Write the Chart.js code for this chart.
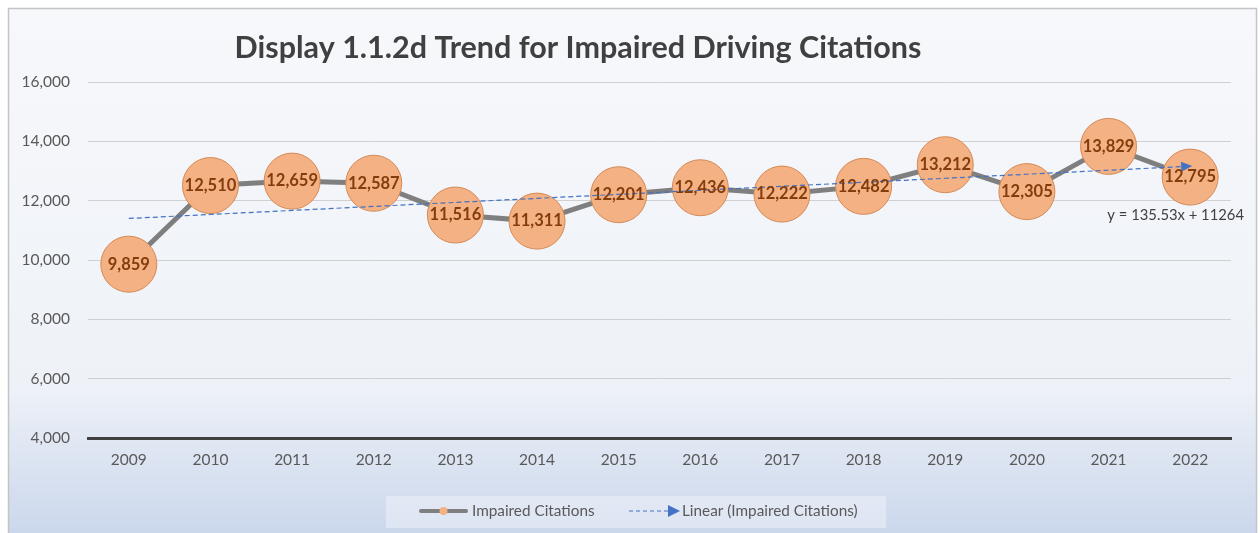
<!DOCTYPE html>
<html>
<head>
<meta charset="utf-8">
<script src="https://cdn.jsdelivr.net/npm/chart.js@4.4.1/dist/chart.umd.min.js"></script>
<style>
  html, body { margin: 0; padding: 0; background: #fff; }
  #wrap { width: 1260px; height: 533px; position: relative; }
</style>
</head>
<body>
<div id="wrap"><canvas id="chart" width="1260" height="533"></canvas></div>
<script>
const years = ['2009', '2010', '2011', '2012', '2013', '2014', '2015', '2016', '2017', '2018', '2019', '2020', '2021', '2022'];
const citations = [9859, 12510, 12659, 12587, 11516, 11311, 12201, 12436, 12222, 12482, 13212, 12305, 13829, 12795];
const trend = [11400, 11535, 11671, 11806, 11942, 12078, 12213, 12349, 12484, 12620, 12755, 12891, 13026, 13162];
const yTicks = [4000, 6000, 8000, 10000, 12000, 14000, 16000];
const titleText = 'Display 1.1.2d Trend for Impaired Driving Citations';
const equationText = 'y = 135.53x + 11264';
const legendLabels = ['Impaired Citations', 'Linear (Impaired Citations)'];

const FONT = 'Lato, "Open Sans", sans-serif';
const fmt = (v) => v.toLocaleString('en-US');

const decor = {
  id: 'decor',
  beforeDraw(chart) {
    const { ctx, width, height } = chart;
    ctx.save();
    ctx.fillStyle = '#ffffff';
    ctx.fillRect(0, 0, width, height);
    const g = ctx.createLinearGradient(0, 8, 0, height);
    g.addColorStop(0, '#f7f8fb');
    g.addColorStop(0.72, '#eef2f8');
    g.addColorStop(1, '#cbd7ec');
    ctx.fillStyle = g;
    ctx.fillRect(8, 8, width - 12, height - 8);
    ctx.strokeStyle = '#c4c4c4';
    ctx.lineWidth = 1.5;
    ctx.strokeRect(8.5, 8.5, width - 12, height);
    ctx.restore();
  },
  afterDatasetsDraw(chart) {
    const { ctx } = chart;
    const meta = chart.getDatasetMeta(0);
    const tmeta = chart.getDatasetMeta(1);
    ctx.save();

    // arrow head at end of trend line
    const p1 = tmeta.data[tmeta.data.length - 2];
    const p2 = tmeta.data[tmeta.data.length - 1];
    const ang = Math.atan2(p2.y - p1.y, p2.x - p1.x);
    ctx.translate(p2.x, p2.y);
    ctx.rotate(ang);
    ctx.fillStyle = '#4472c4';
    ctx.beginPath();
    ctx.moveTo(2, 0);
    ctx.lineTo(-9, -5);
    ctx.lineTo(-9, 5);
    ctx.closePath();
    ctx.fill();
    ctx.setTransform(1, 0, 0, 1, 0, 0);

    // point labels
    ctx.font = 'bold 16.5px ' + FONT;
    ctx.fillStyle = '#843c0c';
    ctx.textAlign = 'center';
    ctx.textBaseline = 'middle';
    meta.data.forEach((pt, i) => {
      ctx.fillText(fmt(citations[i]), pt.x, pt.y);
    });

    // trend equation
    ctx.font = '14.8px ' + FONT;
    ctx.fillStyle = '#404040';
    ctx.textAlign = 'right';
    ctx.fillText(equationText, 1244, 215);

    // title
    ctx.font = 'bold 30.5px ' + FONT;
    ctx.fillStyle = '#404040';
    ctx.textAlign = 'center';
    ctx.fillText(titleText, 578, 48);

    // legend box
    ctx.fillStyle = 'rgba(255,255,255,0.35)';
    ctx.fillRect(386, 496, 500, 32);
    ctx.lineCap = 'round';
    ctx.strokeStyle = '#7f7f7f';
    ctx.lineWidth = 4;
    ctx.beginPath();
    ctx.moveTo(421, 511);
    ctx.lineTo(466, 511);
    ctx.stroke();
    ctx.fillStyle = '#f4b183';
    ctx.beginPath();
    ctx.arc(443.5, 511, 4, 0, Math.PI * 2);
    ctx.fill();
    ctx.lineCap = 'butt';
    ctx.strokeStyle = '#4472c4';
    ctx.lineWidth = 1.2;
    ctx.setLineDash([4, 3]);
    ctx.beginPath();
    ctx.moveTo(629, 511);
    ctx.lineTo(670, 511);
    ctx.stroke();
    ctx.setLineDash([]);
    ctx.fillStyle = '#4472c4';
    ctx.beginPath();
    ctx.moveTo(680, 511);
    ctx.lineTo(668, 505);
    ctx.lineTo(668, 517);
    ctx.closePath();
    ctx.fill();
    ctx.font = '15.3px ' + FONT;
    ctx.fillStyle = '#595959';
    ctx.textAlign = 'left';
    ctx.fillText(legendLabels[0], 472, 511);
    ctx.fillText(legendLabels[1], 682, 511);
    ctx.restore();
  },
};

new Chart(document.getElementById('chart'), {
  type: 'line',
  data: {
    labels: years,
    datasets: [
      {
        label: legendLabels[0],
        data: citations,
        borderColor: '#7f7f7f',
        borderWidth: 5,
        pointRadius: 28,
        pointBackgroundColor: '#f4b183',
        pointBorderColor: '#d58a55',
        pointBorderWidth: 1,
        tension: 0,
        order: 2,
      },
      {
        label: legendLabels[1],
        data: trend,
        borderColor: '#4472c4',
        borderWidth: 1.2,
        borderDash: [5, 3],
        pointRadius: 0,
        tension: 0,
        order: 1,
      },
    ],
  },
  options: {
    responsive: false,
    animation: false,
    events: [],
    layout: { padding: { top: 82, right: 17, bottom: 0, left: 0 } },
    plugins: { legend: { display: false }, title: { display: false }, tooltip: { enabled: false } },
    scales: {
      x: {
        offset: true,
        grid: { display: false, drawTicks: false },
        border: { display: true, color: '#404040', width: 3 },
        ticks: { color: '#595959', font: { family: FONT, size: 15.5 }, padding: 13 },
        afterFit: (s) => { s.height = 95; },
      },
      y: {
        min: yTicks[0],
        max: yTicks[yTicks.length - 1],
        afterBuildTicks: (s) => { s.ticks = yTicks.map(v => ({ value: v })); },
        grid: { color: (c) => c.tick && c.tick.value === 4000 ? 'rgba(0,0,0,0)' : '#d0d0d0', lineWidth: 1, drawTicks: false },
        border: { display: false },
        ticks: { color: '#595959', font: { family: FONT, size: 15.5 }, padding: 18, callback: (v) => fmt(v) },
        afterFit: (s) => { s.width = 88; },
      },
    },
  },
  plugins: [decor],
});
</script>
</body>
</html>
